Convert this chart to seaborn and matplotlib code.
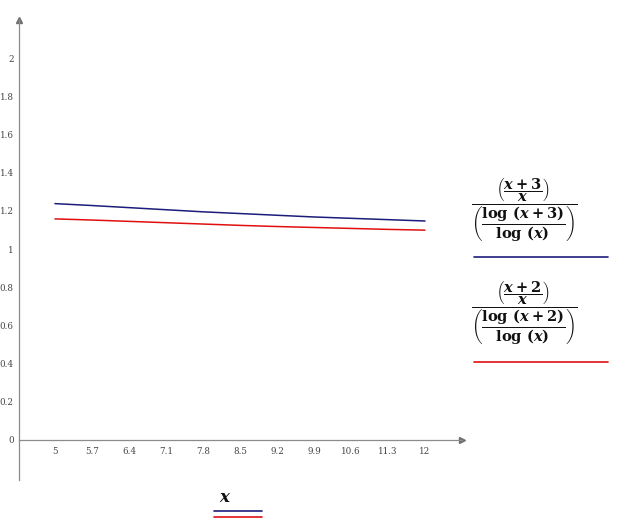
import seaborn as sns
import numpy as np
import matplotlib.pyplot as plt
import pandas as pd
from matplotlib.lines import Line2D

# values at each x tick
x_vals = [5, 5.7, 6.4, 7.1, 7.8, 8.5, 9.2, 9.9, 10.6, 11.3, 12]
blue_vals = [1.238, 1.228, 1.217, 1.206, 1.195, 1.186, 1.177, 1.168, 1.161, 1.154, 1.147]
red_vals = [1.158, 1.152, 1.145, 1.138, 1.131, 1.124, 1.118, 1.113, 1.108, 1.103, 1.099]
y_ticks = [0, 0.2, 0.4, 0.6, 0.8, 1, 1.2, 1.4, 1.6, 1.8, 2]
y_labels = ["0", "0.2", "0.4", "0.6", "0.8", "1", "1.2", "1.4", "1.6", "1.8", "2"]

blue = "#1c1c7c"
red = "#e01010"
axis_col = "#8c8c8c"

sns.set_style("white")
plt.rcParams['font.family'] = ['DejaVu Serif']
plt.rcParams['mathtext.fontset'] = 'custom'
plt.rcParams['mathtext.it'] = 'DejaVu Serif:italic:bold'
plt.rcParams['mathtext.rm'] = 'DejaVu Serif:bold'
plt.rcParams['mathtext.bf'] = 'DejaVu Serif:bold'

W, H = 625, 522
fig = plt.figure(figsize=(W / 100, H / 100), dpi=100)
ax = fig.add_axes([19 / W, 1 - 480 / H, (462 - 19) / W, (480 - 20) / H])

df = pd.DataFrame({'x': x_vals * 2,
                   'y': blue_vals + red_vals,
                   's': ['b'] * len(x_vals) + ['r'] * len(x_vals)})
sns.lineplot(data=df, x='x', y='y', hue='s', palette={'b': blue, 'r': red},
             linewidth=1.1, legend=False, ax=ax)

ax.set_xlim(4.32, 12.7)
ax.set_ylim(-0.21, 2.2)
for s in ['top', 'right']:
    ax.spines[s].set_visible(False)
ax.spines['left'].set_color(axis_col)
ax.spines['bottom'].set_color(axis_col)
ax.spines['bottom'].set_position(('data', 0))
ax.spines['left'].set_linewidth(0.9)
ax.spines['bottom'].set_linewidth(0.9)

ax.set_xticks(x_vals)
ax.set_xticklabels([("%g" % v) for v in x_vals])
ax.set_yticks(y_ticks)
ax.set_yticklabels(y_labels)
ax.tick_params(axis='both', labelsize=6.3, colors='#444444', length=3,
               width=0.8, color=axis_col, pad=0.8)
ax.tick_params(axis='x', direction='in', pad=5)
ax.set_xlabel('')
ax.set_ylabel('')

# arrow heads at axis ends
ax.plot([1], [0], marker='>', color='#707070', markersize=5,
        transform=ax.get_yaxis_transform(), clip_on=False)
ax.plot([0], [1], marker='^', color='#707070', markersize=5,
        transform=ax.transAxes, clip_on=False)

# legend on the right
expr1 = r'$\dfrac{\left(\dfrac{x+3}{x}\right)}{\left(\dfrac{\log\,(x+3)}{\log\,(x)}\right)}$'
expr2 = r'$\dfrac{\left(\dfrac{x+2}{x}\right)}{\left(\dfrac{\log\,(x+2)}{\log\,(x)}\right)}$'
fig.text(524 / W, 1 - 210 / H, expr1, ha='center', va='center', fontsize=10.5, color='#111111')
fig.text(524 / W, 1 - 313 / H, expr2, ha='center', va='center', fontsize=10.5, color='#111111')
fig.add_artist(Line2D([474 / W, 608 / W], [1 - 257 / H] * 2, color=blue, lw=1.2))
fig.add_artist(Line2D([474 / W, 608 / W], [1 - 362 / H] * 2, color=red, lw=1.2))

# x label with its line keys
fig.text(225 / W, 1 - 497 / H, r'$x$', ha='center', va='center', fontsize=12, color='#111111')
fig.add_artist(Line2D([214 / W, 262 / W], [1 - 511 / H] * 2, color=blue, lw=1.2))
fig.add_artist(Line2D([214 / W, 262 / W], [1 - 517 / H] * 2, color=red, lw=1.2))

fig.savefig('out.png', dpi=100)
